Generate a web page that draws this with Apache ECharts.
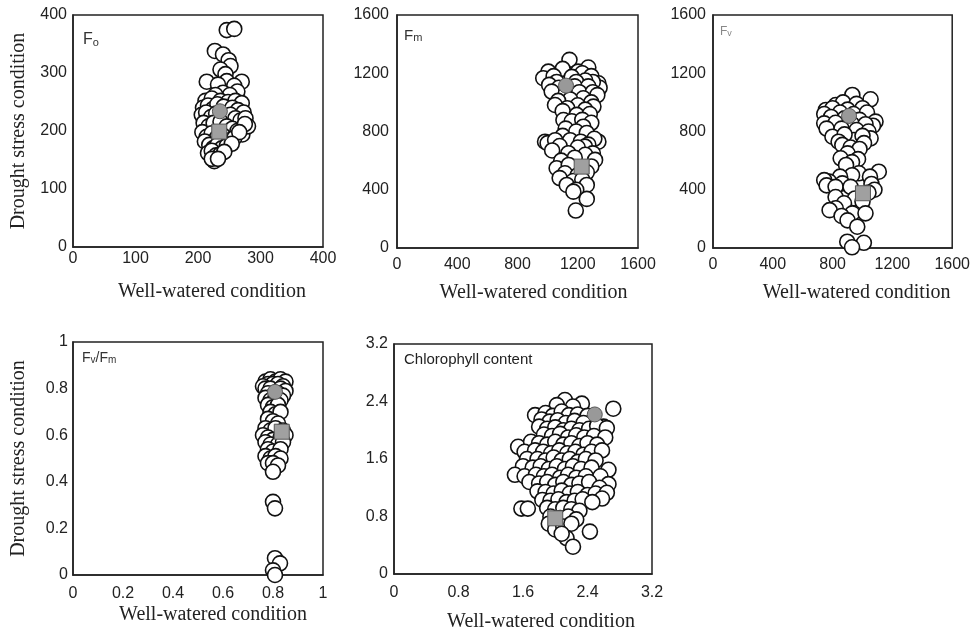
<!DOCTYPE html>
<html>
<head>
<meta charset="utf-8">
<script src="https://cdn.jsdelivr.net/npm/echarts@6/dist/echarts.min.js"></script>
<style>html,body{margin:0;padding:0;background:#fff}#c{width:973px;height:633px}</style>
</head>
<body>
<div id="c"></div>
<script>
// ---- Data (well-watered x, drought-stress y) ----
const foPoints = [[246,374],[258,376],[227,338],[240,332],[249,322],[252,312],[236,306],[244,298],
[214,285],[246,286],[270,285],[232,280],[258,278],[263,268],[240,266],[251,262],[228,262],
[212,252],[222,256],[236,252],[248,250],[260,252],[270,248],
[208,240],[216,244],[224,238],[231,246],[241,242],[255,240],[264,236],[273,232],
[206,228],[213,232],[221,224],[229,230],[243,226],[252,228],[260,222],[268,218],[276,222],
[209,214],[217,208],[225,214],[236,216],[246,208],[255,204],[263,200],[271,194],[280,208],[275,212],
[207,198],[214,190],[222,196],[230,188],[240,192],[250,184],[258,188],[266,198],
[211,182],[218,176],[224,170],[231,176],[238,170],[246,174],[254,178],
[216,162],[222,166],[229,158],[236,160],[242,164],[226,148],[222,152],[232,152]];
const foCircle = [[235,234]];
const foSquare = [[234,199]];

const fmPoints = [[1145,1292],[1270,1239],[1202,1211],[1005,1211],[1100,1230],[1230,1200],[971,1166],[1040,1180],[1160,1175],[1290,1180],[1337,1131],[1345,1100],[1300,1140],[1250,1150],[1190,1140],[1060,1140],[1010,1120],[1075,1100],[1180,1110],[1270,1110],[1027,1074],[1120,1060],[1210,1070],[1300,1070],[1330,1050],[1237,1028],[1150,1020],[1070,1010],[1290,1000],[1049,982],[1304,971],[1200,980],[1130,960],[1250,950],[1100,940],[1193,914],[1280,920],[1105,879],[1160,870],[1230,880],[1290,860],[1237,833],[1120,820],[1190,800],[1260,790],[1100,770],[983,730],[1000,720],[1050,740],[1337,730],[1310,750],[1150,740],[1220,730],[1270,710],[1248,696],[1080,700],[1200,690],[1138,651],[1030,670],[1300,650],[1250,640],[1180,620],[1315,605],[1090,600],[1060,548],[1140,570],[1290,560],[1115,513],[1200,500],[1260,520],[1080,480],[1170,460],[1230,470],[1127,433],[1260,433],[1190,400],[1171,387],[1260,337],[1187,257]];
const fmCircle = [[1122,1115]];
const fmSquare = [[1226,559]];

const fvPoints = [[932,1051],[1054,1021],[821,982],[870,1000],[960,990],[755,948],[800,960],[900,950],[1000,960],[744,920],[850,930],[940,920],[1030,930],[790,900],[880,890],[980,880],[1087,868],[1070,840],[744,856],[820,860],[930,850],[1020,850],[760,820],[860,820],[960,810],[1040,800],[799,764],[943,742],[1054,753],[880,780],[1000,770],[840,730],[1010,720],[865,708],[920,690],[980,680],[900,650],[854,616],[970,610],[930,590],[890,570],[1109,524],[976,513],[930,500],[850,490],[1050,490],[777,456],[744,466],[865,444],[760,430],[820,420],[920,420],[1060,440],[1080,400],[1040,380],[820,350],[950,340],[876,307],[1000,320],[821,273],[780,260],[932,238],[1020,238],[860,220],[900,190],[965,146],[898,43],[1009,36],[930,5]];
const fvCircle = [[910,907]];
const fvSquare = [[1003,376]];

const fvfmPoints = [[0.77,0.83],[0.79,0.84],[0.81,0.83],[0.83,0.84],[0.85,0.83],[0.78,0.82],[0.80,0.82],[0.82,0.82],[0.84,0.81],[0.76,0.81],[0.77,0.80],[0.79,0.80],[0.83,0.80],[0.85,0.79],[0.78,0.78],[0.80,0.77],[0.82,0.78],[0.84,0.77],[0.77,0.76],[0.79,0.75],[0.81,0.76],[0.83,0.75],[0.78,0.73],[0.80,0.72],[0.82,0.73],[0.79,0.70],[0.81,0.69],[0.83,0.70],[0.78,0.67],[0.80,0.66],[0.82,0.65],[0.77,0.63],[0.79,0.62],[0.81,0.63],[0.84,0.62],[0.76,0.60],[0.78,0.59],[0.80,0.58],[0.83,0.59],[0.85,0.60],[0.77,0.57],[0.79,0.56],[0.82,0.56],[0.84,0.57],[0.78,0.54],[0.80,0.53],[0.83,0.54],[0.77,0.51],[0.79,0.50],[0.81,0.51],[0.83,0.50],[0.78,0.48],[0.80,0.48],[0.82,0.47],[0.80,0.443],[0.80,0.314],[0.808,0.286],[0.808,0.072],[0.828,0.05],[0.80,0.02],[0.808,0.0]];
const fvfmCircle = [[0.808,0.786]];
const fvfmSquare = [[0.835,0.615]];

const chlPoints = [[2.12,2.42],[2.33,2.37],[2.02,2.35],[2.22,2.33],[2.72,2.30],
[1.75,2.21],[1.88,2.24],[1.97,2.20],[2.08,2.26],[2.17,2.21],[2.28,2.22],[2.40,2.20],[1.83,2.15],[1.93,2.12],[2.03,2.14],[2.13,2.10],[2.24,2.13],[2.35,2.10],[2.60,2.05],
[1.80,2.05],[1.90,2.02],[2.00,2.04],[2.10,2.00],[2.20,2.02],[2.30,2.00],[2.42,2.02],[2.52,2.06],[2.64,2.03],[1.86,1.94],[1.96,1.92],[2.06,1.95],[2.16,1.90],[2.26,1.93],[2.36,1.90],[2.48,1.92],[2.62,1.90],
[1.54,1.77],[1.70,1.84],[1.80,1.82],[1.90,1.80],[2.00,1.84],[2.10,1.80],[2.20,1.82],[2.30,1.78],[2.40,1.82],[2.52,1.80],[1.62,1.70],[1.75,1.72],[1.85,1.70],[1.95,1.68],[2.05,1.72],[2.15,1.68],[2.25,1.70],[2.35,1.66],[2.45,1.70],[2.58,1.72],
[1.65,1.60],[1.78,1.60],[1.88,1.58],[1.98,1.62],[2.08,1.58],[2.18,1.60],[2.28,1.56],[2.38,1.60],[2.50,1.58],[1.60,1.50],[1.72,1.48],[1.82,1.50],[1.92,1.46],[2.02,1.50],[2.12,1.46],[2.22,1.50],[2.32,1.46],[2.45,1.48],[2.66,1.45],
[1.50,1.38],[1.62,1.36],[1.76,1.38],[1.86,1.36],[1.96,1.38],[2.06,1.34],[2.16,1.38],[2.26,1.34],[2.38,1.36],[2.56,1.36],[1.68,1.28],[1.80,1.26],[1.90,1.28],[2.00,1.24],[2.10,1.28],[2.20,1.24],[2.30,1.26],[2.42,1.28],[2.66,1.25],[2.55,1.20],
[1.78,1.15],[1.88,1.14],[1.98,1.12],[2.08,1.16],[2.18,1.12],[2.28,1.14],[2.40,1.10],[2.50,1.12],[2.64,1.13],[1.84,1.03],[1.94,1.02],[2.04,1.04],[2.14,1.00],[2.24,1.02],[2.34,1.04],[2.58,1.05],[2.46,1.00],
[1.58,0.91],[1.66,0.91],[1.90,0.92],[2.00,0.90],[2.10,0.92],[2.20,0.90],[2.30,0.88],[1.94,0.80],[2.06,0.78],[2.16,0.80],[2.26,0.76],[1.92,0.70],[2.00,0.62],[2.10,0.66],[2.20,0.70],[2.43,0.59],[2.14,0.50],[2.08,0.56],[2.22,0.38]];
const chlCircle = [[2.49,2.22]];
const chlSquare = [[2.00,0.775]];

// axis ranges (min, max, interval)
const axFo = [0, 400, 100];
const axFm = [0, 1600, 400];
const axFv = [0, 1600, 400];
const axFvFm = [0, 1, 0.2];
const axChl = [0, 3.2, 0.8];

const xTitle = 'Well-watered condition';
const yTitle = 'Drought stress condition';

// ---- Layout ----
const panels = [
  {pts: foPoints, c: foCircle, s: foSquare, ax: axFo, grid: {left:73, top:15, width:250, height:232}, xGap:35, xShift:28, xLM:4, yLM:6, yName:true},
  {pts: fmPoints, c: fmCircle, s: fmSquare, ax: axFm, grid: {left:397, top:15, width:241, height:233}, xGap:35, xShift:32, xLM:9, yLM:8, yName:false},
  {pts: fvPoints, c: fvCircle, s: fvSquare, ax: axFv, grid: {left:713, top:15, width:241, height:233}, xGap:35, xShift:48, xLM:9, yLM:7, yName:false},
  {pts: fvfmPoints, c: fvfmCircle, s: fvfmSquare, ax: axFvFm, grid: {left:73, top:342, width:250, height:233}, xGap:30, xShift:30, xLM:11, yLM:5, yName:true},
  {pts: chlPoints, c: chlCircle, s: chlSquare, ax: axChl, grid: {left:394, top:344, width:258, height:230}, xGap:38, xShift:36, xLM:11, yLM:6, yName:false}
];

const fmt = v => String(Math.round(v * 100) / 100);
const labelStyle = {fontFamily:'Liberation Sans, Arial, sans-serif', fontSize:16, color:'#222', formatter: fmt};
const grids = [], xAxes = [], yAxes = [], series = [];
panels.forEach((p, i) => {
  grids.push(Object.assign({show:true, borderColor:'#222', borderWidth:1.5, backgroundColor:'transparent'}, p.grid));
  const axisCommon = {
    axisLine:{show:true, onZero:false, lineStyle:{color:'#222', width:1.5}},
    axisTick:{show:false}, splitLine:{show:false}
  };
  xAxes.push(Object.assign({type:'value', gridIndex:i, min:p.ax[0], max:p.ax[1], interval:p.ax[2],
    axisLabel:Object.assign({margin:p.xLM}, labelStyle),
    name:xTitle, nameLocation:'middle', nameGap:p.xGap,
    nameTextStyle:{fontFamily:'Liberation Serif, Times New Roman, serif', fontSize:20, color:'#222', padding:[0,0,0,p.xShift]}
  }, axisCommon));
  yAxes.push(Object.assign({type:'value', gridIndex:i, min:p.ax[0], max:p.ax[1], interval:p.ax[2],
    axisLabel:Object.assign({margin:p.yLM}, labelStyle),
    name:p.yName ? yTitle : '', nameLocation:'middle', nameGap:44,
    nameTextStyle:{fontFamily:'Liberation Serif, Times New Roman, serif', fontSize:20, color:'#222'}
  }, axisCommon));
  series.push({type:'scatter', xAxisIndex:i, yAxisIndex:i, data:p.pts, symbol:'circle', symbolSize:15,
    itemStyle:{color:'#fff', borderColor:'#111', borderWidth:1.6, opacity:1}, silent:true});
  series.push({type:'scatter', xAxisIndex:i, yAxisIndex:i, data:p.c, symbol:'circle', symbolSize:15,
    itemStyle:{color:'#999', borderColor:'#555', borderWidth:1, opacity:1}, silent:true, z:3});
  series.push({type:'scatter', xAxisIndex:i, yAxisIndex:i, data:p.s, symbol:'rect', symbolSize:15,
    itemStyle:{color:'#a0a0a0', borderColor:'#555', borderWidth:1, opacity:1}, silent:true, z:3});
});

const sansF = 'Liberation Sans, Arial, sans-serif';
function richTitle(text, left, top, big, small, color) {
  return {text:text, left:left, top:top, padding:0,
    textStyle:{fontWeight:'normal', rich:{
      a:{fontFamily:sansF, fontSize:big, color:color, fontWeight:'normal', verticalAlign:'bottom'},
      b:{fontFamily:sansF, fontSize:small, color:color, fontWeight:'normal', verticalAlign:'bottom'}
    }}};
}
const titles = [
  richTitle('{a|F}{b|o}', 83, 32, 16, 11, '#333'),
  richTitle('{a|F}{b|m}', 404, 28, 15, 11, '#333'),
  richTitle('{a|F}{b|v}', 720, 26, 12, 9, '#888'),
  richTitle('{a|F}{b|v}{a|/F}{b|m}', 82, 351, 14, 10, '#333'),
  richTitle('{a|Chlorophyll content}', 404, 352, 15, 15, '#222')
];

const chart = echarts.init(document.getElementById('c'), null, {renderer:'canvas'});
chart.setOption({
  animation:false,
  backgroundColor:'#fff',
  title:titles,
  grid:grids, xAxis:xAxes, yAxis:yAxes, series:series
});
</script>
</body>
</html>
